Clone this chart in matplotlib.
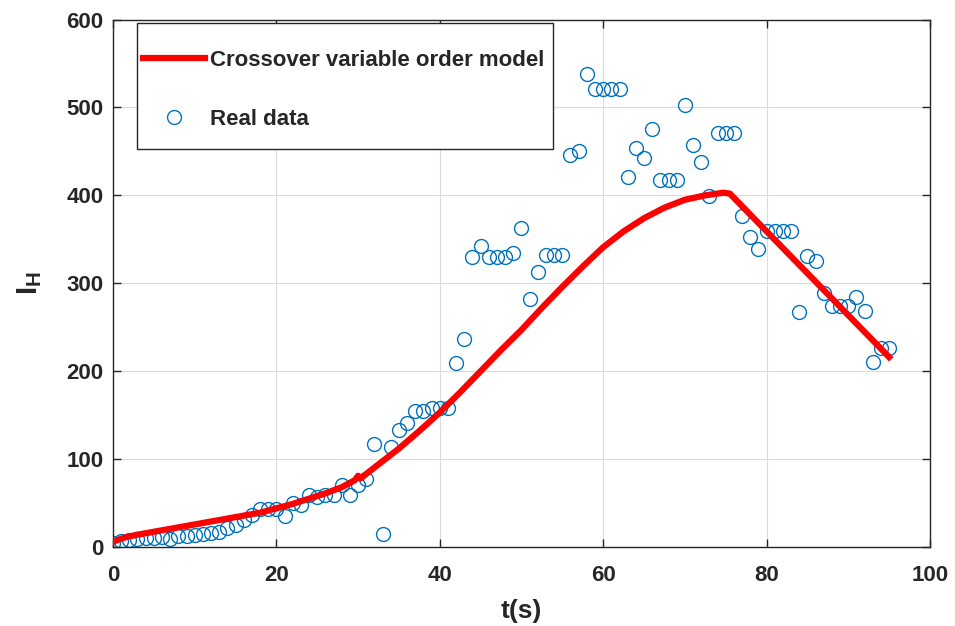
import matplotlib
matplotlib.use("Agg")
import matplotlib.pyplot as plt
from matplotlib.patches import Rectangle
import numpy as np

plt.rcParams["font.family"] = ["Liberation Sans", "DejaVu Sans"]
plt.rcParams["font.weight"] = "bold"
plt.rcParams["mathtext.fontset"] = "custom"
plt.rcParams["mathtext.bf"] = "Liberation Sans:bold"
plt.rcParams["mathtext.rm"] = "Liberation Sans:bold"

# real data, one value per second
t_data = list(range(0, 96))
real_data = [
    5, 7, 8, 9, 10, 10, 11, 9, 12, 13, 14, 15, 16, 17, 22, 25,
    31, 36, 43, 43, 43, 35, 50, 48, 59, 57, 59, 59, 70, 59,
    70, 77, 117, 15, 114, 133, 141, 155, 155, 158, 158, 158, 209, 237,
    330, 342, 330, 330, 330, 334, 363, 282, 313, 332, 332, 332, 446, 450,
    538, 521, 521, 521, 521, 421, 454, 443, 476, 418, 418, 418, 503, 457,
    438, 399, 471, 471, 471, 377, 353, 339, 360, 360, 360, 360, 267, 331,
    325, 289, 274, 274, 274, 284, 268, 211, 226, 226,
]

# crossover variable order model
t_model = [0, 1.5, 3, 6, 9, 12, 15, 18, 20, 22, 24, 26, 28, 29.6, 30, 30.3,
           32.5, 35, 37.5, 40, 42.5, 45, 47.5, 50, 52.5, 55, 57.5, 60,
           62.5, 65, 67.5, 70, 72.5, 74.7, 75.5, 95]
model = [6, 11, 14, 19, 24, 29, 34, 39, 44, 49, 55, 61, 68, 76, 81, 78,
         94, 112, 132, 153, 176, 200, 224, 247, 272, 296, 319, 341,
         359, 374, 386, 395, 400, 403, 402, 216]

fig = plt.figure(figsize=(9.55, 6.26), dpi=100)
ax = fig.add_axes([0.1183, 0.1262, 0.9738 - 0.1183, 0.9688 - 0.1262])

ax.plot(t_model, model, color="red", lw=4.5, solid_joinstyle="round",
        label="Crossover variable order model", zorder=3)
ax.plot(t_data, real_data, "o", mfc="none", mec="#0072BD", ms=10, mew=1.0,
        label="Real data", zorder=2)

ax.set_xlim(0, 100)
ax.set_ylim(0, 600)
ax.set_xticks(np.arange(0, 101, 20))
ax.set_yticks(np.arange(0, 601, 100))
ax.grid(True, color="#dcdcdc", lw=0.8)
ax.set_axisbelow(True)
ax.tick_params(direction="in", top=True, right=True, length=6, width=1,
               labelsize=16, colors="#262626")
ax.tick_params(axis="x", pad=13)
ax.tick_params(axis="y", pad=7)
for s in ax.spines.values():
    s.set_color("#262626")
    s.set_linewidth(1)

ax.set_xlabel("t(s)", fontsize=19, fontweight="bold", color="#262626", labelpad=9)
ax.set_ylabel(r"$\mathbf{I_H}$", fontsize=21, color="#262626", labelpad=16)

# legend box drawn separately so the rows can sit with wide spacing
box = Rectangle((0.0294, 0.7545), 0.5092, 0.2389, transform=ax.transAxes,
                facecolor="white", edgecolor="#262626", lw=1, zorder=4)
ax.add_patch(box)
leg = ax.legend(loc="upper left", bbox_to_anchor=(0.0367, 0.943), fontsize=16,
                handlelength=2.8, handletextpad=0.22, labelspacing=1.73,
                borderpad=0.0, borderaxespad=0.0, frameon=False)
leg.set_zorder(5)
for txt in leg.get_texts():
    txt.set_fontweight("bold")
    txt.set_color("#262626")

fig.savefig("out.png", dpi=100)
